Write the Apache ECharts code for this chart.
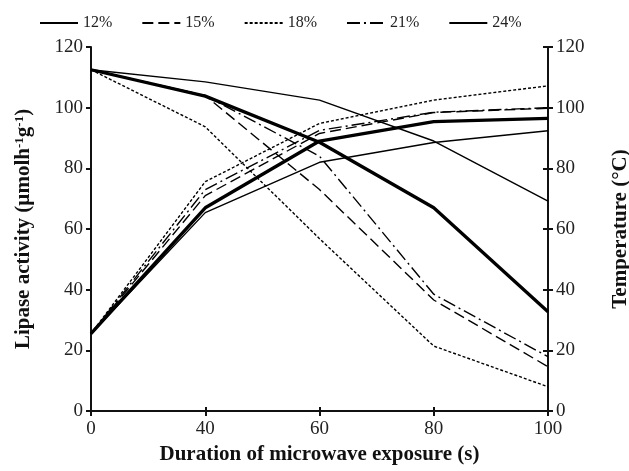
<!DOCTYPE html>
<html>
<head>
<meta charset="utf-8">
<script src="https://cdn.jsdelivr.net/npm/echarts@6/dist/echarts.min.js"></script>
<style>
  html, body { margin: 0; padding: 0; background: #fff; }
  #chart { width: 629px; height: 471px; }
</style>
</head>
<body>
<div id="chart"></div>
<script>
// microwave exposure time (s) - plotted as evenly spaced categories
const durations = ["0", "40", "60", "80", "100"];
const moisture = ["12%", "15%", "18%", "21%", "24%"];

// lipase activity (left axis)
const lipase12 = [112.5, 108.5, 102.5, 89, 69.2];
const lipase15 = [112.5, 104, 73, 36.6, 14.6];
const lipase18 = [112.5, 93.7, 56.8, 21.4, 8];
const lipase21 = [112.5, 104, 84, 38.5, 17.9];
const lipase24 = [112.5, 103.8, 88.6, 67, 32.7];

// temperature (right axis)
const temp12 = [25.5, 65.4, 82, 88.5, 92.4];
const temp15 = [25.5, 71, 91.5, 98.4, 99.8];
const temp18 = [25.5, 75.6, 94.8, 102.5, 107.2];
const temp21 = [25.5, 73, 92.5, 98.5, 100];
const temp24 = [25.5, 67, 89, 95.4, 96.5];

const styles = {
  "12%": { width: 1.4, type: "solid" },
  "15%": { width: 1.4, type: [11, 5] },
  "18%": { width: 1.4, type: [3, 2] },
  "21%": { width: 1.4, type: [13, 4, 2, 4] },
  "24%": { width: 3.3, type: "solid" }
};

const font = "Liberation Serif";

function mkSeries(name, data, axis) {
  return {
    name: name,
    type: "line",
    yAxisIndex: axis,
    data: data,
    symbol: "none",
    silent: true,
    lineStyle: { color: "#000", width: styles[name].width, type: styles[name].type }
  };
}

const yBase = {
  type: "value", min: 0, max: 120, interval: 20,
  splitLine: { show: false },
  axisLine: { show: true, lineStyle: { color: "#111", width: 2 } },
  axisTick: { show: true, length: 5, lineStyle: { color: "#111", width: 2 } },
  axisLabel: { color: "#222", fontFamily: font, fontSize: 19, margin: 8 }
};

const chart = echarts.init(document.getElementById("chart"));
chart.setOption({
  animation: false,
  backgroundColor: "#fff",
  legend: {
    top: 10,
    left: 34,
    itemWidth: 38,
    itemHeight: 14,
    itemGap: 29,
    data: moisture,
    itemStyle: { opacity: 0 },
    textStyle: { fontFamily: font, fontSize: 16, color: "#222" }
  },
  grid: { left: 91, right: 81, top: 47, bottom: 60, outerBoundsMode: "none", containLabel: false },
  xAxis: [{
    type: "category",
    data: durations,
    boundaryGap: false,
    name: "Duration of microwave exposure (s)",
    nameLocation: "middle",
    nameGap: 29,
    nameTextStyle: { fontFamily: font, fontSize: 21, fontWeight: "bold", color: "#111" },
    axisLine: { lineStyle: { color: "#111", width: 2 } },
    axisTick: { alignWithLabel: true, length: 5, lineStyle: { color: "#111", width: 2 } },
    axisLabel: { color: "#222", fontFamily: font, fontSize: 19, margin: 9 },
    splitLine: { show: false }
  }, {
    // inner half of the crossing ticks
    type: "category",
    data: durations,
    boundaryGap: false,
    position: "bottom",
    axisLine: { show: false },
    axisTick: { inside: true, length: 4, lineStyle: { color: "#111", width: 2 } },
    axisLabel: { show: false }
  }],
  yAxis: [
    Object.assign({}, yBase, {
      position: "left",
      name: "{t|Lipase activity (µmolh}{s|-1}{t|g}{s|-1}{t|)}",
      nameLocation: "middle",
      nameRotate: 90,
      nameGap: 56,
      nameTextStyle: {
        rich: {
          t: { fontFamily: font, fontSize: 21, fontWeight: "bold", color: "#111" },
          s: { fontFamily: font, fontSize: 13, fontWeight: "bold", color: "#111", verticalAlign: "top", padding: [0, 0, 9, 0] }
        }
      }
    }),
    Object.assign({}, yBase, {
      position: "right",
      name: "Temperature (°C)",
      nameLocation: "middle",
      nameRotate: 90,
      nameGap: 62,
      nameTextStyle: { fontFamily: font, fontSize: 21, fontWeight: "bold", color: "#111" }
    }),
    Object.assign({}, yBase, {
      position: "right",
      axisLine: { show: false },
      axisTick: { show: true, inside: true, length: 5, lineStyle: { color: "#111", width: 2 } },
      axisLabel: { show: false }
    })
  ],
  series: [
    mkSeries("12%", lipase12, 0),
    mkSeries("15%", lipase15, 0),
    mkSeries("18%", lipase18, 0),
    mkSeries("21%", lipase21, 0),
    mkSeries("24%", lipase24, 0),
    mkSeries("12%", temp12, 1),
    mkSeries("15%", temp15, 1),
    mkSeries("18%", temp18, 1),
    mkSeries("21%", temp21, 1),
    mkSeries("24%", temp24, 1)
  ]
});
</script>
</body>
</html>
